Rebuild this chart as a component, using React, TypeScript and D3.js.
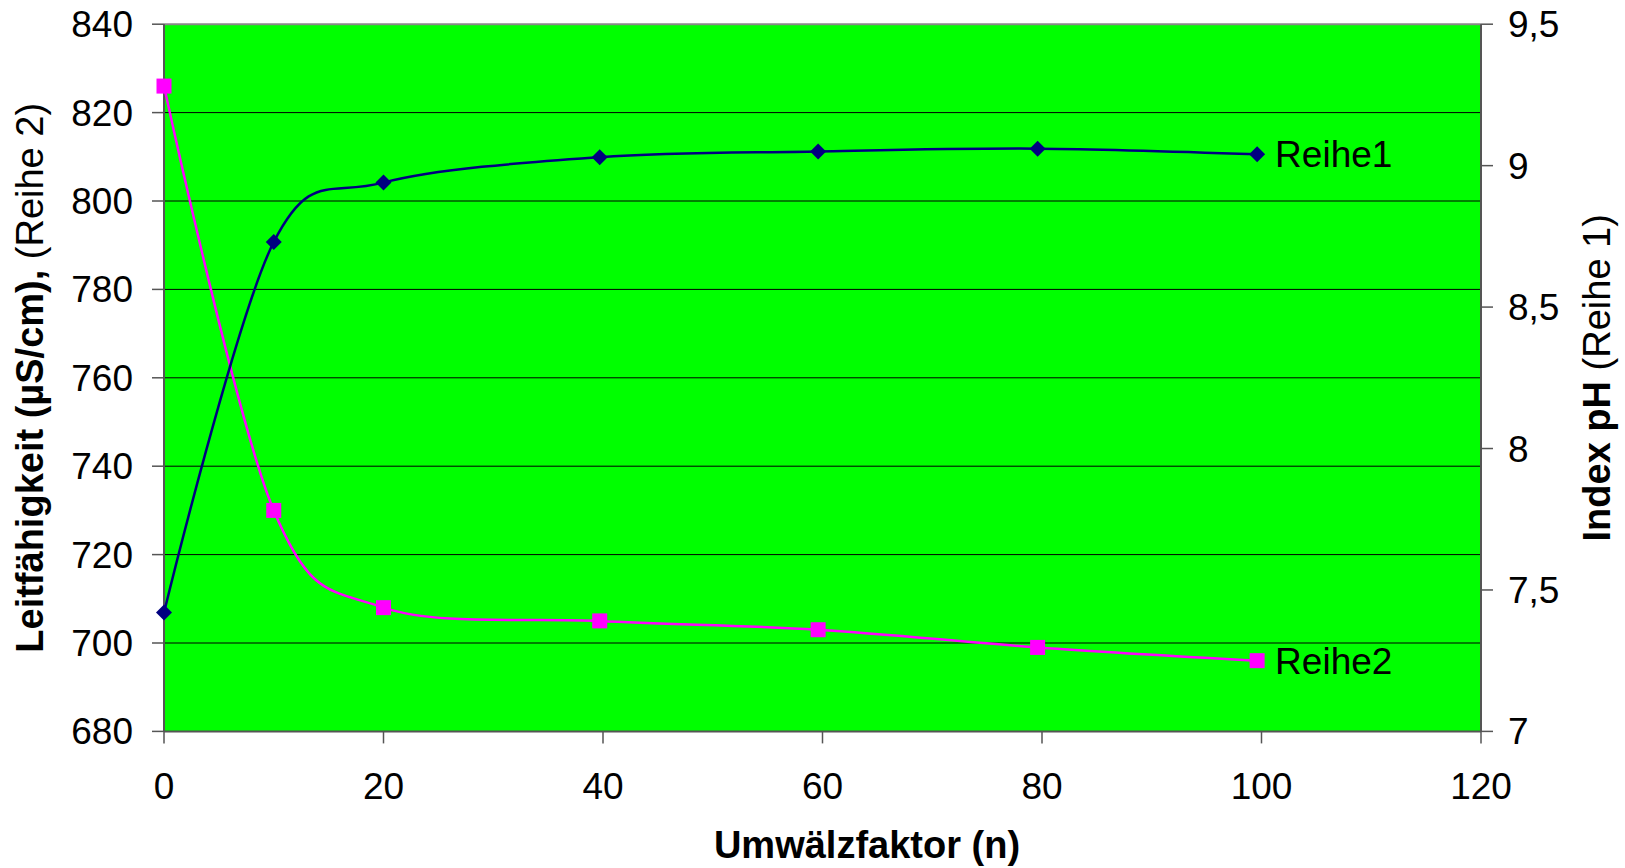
import React from "react";
import * as d3 from "d3";

const xValues = [0, 10, 20, 39.7, 59.6, 79.6, 99.6];
const reihe1 = [7.42, 8.73, 8.94, 9.03, 9.05, 9.06, 9.04]; // pH, right axis
const reihe2 = [826, 730, 708, 705, 703, 699, 696]; // conductivity, left axis
const xTicks = [0, 20, 40, 60, 80, 100, 120];
const leftTicks = [680, 700, 720, 740, 760, 780, 800, 820, 840];
const rightTicks = [7, 7.5, 8, 8.5, 9, 9.5];
const rightTickLabels = ["7", "7,5", "8", "8,5", "9", "9,5"];

const W = 1625;
const H = 868;
const L = 164, R = 1481, T = 24.2, B = 731.4;
const FONT = "'Liberation Sans', Arial, Helvetica, sans-serif";

export default function App() {
  const x = d3.scaleLinear().domain([0, 120]).range([L, R]);
  const yL = d3.scaleLinear().domain([680, 840]).range([B, T]);
  const yR = d3.scaleLinear().domain([7, 9.5]).range([B, T]);

  const line1 = d3
    .line<number>()
    .x((_, i) => x(xValues[i]))
    .y((d) => yR(d))
    .curve(d3.curveCardinal.tension(0));
  const line2 = d3
    .line<number>()
    .x((_, i) => x(xValues[i]))
    .y((d) => yL(d))
    .curve(d3.curveCardinal.tension(0));

  const axisColor = "#555";
  const n = xValues.length - 1;

  return (
    <svg
      width={W}
      height={H}
      style={{ position: "absolute", left: 0, top: 0, background: "#fff" }}
      fontFamily={FONT}
    >
      <rect x={L} y={T} width={R - L} height={B - T} fill="#00FF00" />
      {leftTicks.slice(1, -1).map((t) => (
        <line key={t} x1={L} x2={R} y1={yL(t)} y2={yL(t)} stroke="#000" strokeWidth={1} />
      ))}
      <line x1={L} x2={R} y1={T} y2={T} stroke="#888" strokeWidth={2} />

      {/* axes */}
      <line x1={L} x2={L} y1={T} y2={B} stroke={axisColor} strokeWidth={2} />
      <line x1={R} x2={R} y1={T} y2={B} stroke={axisColor} strokeWidth={2} />
      <line x1={L} x2={R} y1={B} y2={B} stroke={axisColor} strokeWidth={2} />

      {leftTicks.map((t) => (
        <g key={t}>
          <line x1={L - 12} x2={L} y1={yL(t)} y2={yL(t)} stroke={axisColor} strokeWidth={1.5} />
          <text x={133} y={yL(t) + 13} fontSize={37} textAnchor="end" fill="#000">
            {t}
          </text>
        </g>
      ))}
      {rightTicks.map((t, i) => (
        <g key={t}>
          <line x1={R} x2={R + 12} y1={yR(t)} y2={yR(t)} stroke={axisColor} strokeWidth={1.5} />
          <text x={1508} y={yR(t) + 13} fontSize={37} textAnchor="start" fill="#000">
            {rightTickLabels[i]}
          </text>
        </g>
      ))}
      {xTicks.map((t) => (
        <g key={t}>
          <line x1={x(t)} x2={x(t)} y1={B} y2={B + 12} stroke={axisColor} strokeWidth={1.5} />
          <text x={x(t)} y={799} fontSize={37} textAnchor="middle" fill="#000">
            {t}
          </text>
        </g>
      ))}

      {/* series */}
      <path d={line2(reihe2) || ""} fill="none" stroke="#FF00FF" strokeWidth={2.5} />
      <path d={line1(reihe1) || ""} fill="none" stroke="#000080" strokeWidth={2.5} />
      {reihe2.map((v, i) => (
        <rect key={i} x={x(xValues[i]) - 7.5} y={yL(v) - 7.5} width={15} height={15} fill="#FF00FF" />
      ))}
      {reihe1.map((v, i) => {
        const cx = x(xValues[i]);
        const cy = yR(v);
        return (
          <path
            key={i}
            d={`M${cx},${cy - 8}L${cx + 8},${cy}L${cx},${cy + 8}L${cx - 8},${cy}Z`}
            fill="#000080"
          />
        );
      })}

      <text x={x(xValues[n]) + 18} y={yR(reihe1[n]) + 13} fontSize={37} fill="#000">
        Reihe1
      </text>
      <text x={x(xValues[n]) + 18} y={yL(reihe2[n]) + 13} fontSize={37} fill="#000">
        Reihe2
      </text>

      {/* axis titles */}
      <text x={867} y={858} fontSize={38} fontWeight="bold" textAnchor="middle" fill="#000">
        Umwälzfaktor (n)
      </text>
      <text
        transform={`translate(43,${(T + B) / 2}) rotate(-90)`}
        fontSize={38}
        textAnchor="middle"
        fill="#000"
      >
        <tspan fontWeight="bold">Leitfähigkeit (µS/cm),</tspan>
        <tspan> (Reihe 2)</tspan>
      </text>
      <text
        transform={`translate(1610,${(T + B) / 2}) rotate(-90)`}
        fontSize={38}
        textAnchor="middle"
        fill="#000"
      >
        <tspan fontWeight="bold">Index pH</tspan>
        <tspan> (Reihe 1)</tspan>
      </text>
    </svg>
  );
}
